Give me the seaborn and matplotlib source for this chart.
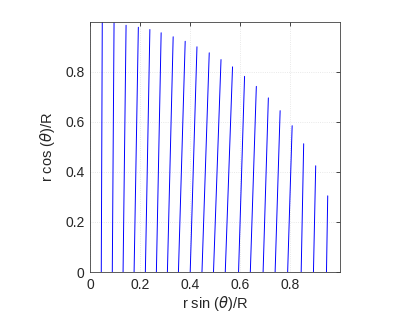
import numpy as np
import pandas as pd
import matplotlib
matplotlib.use("Agg")
import matplotlib.pyplot as plt
import seaborn as sns

# line ends: bottom at y=0, top on the edge
x_bottom = [0.045, 0.089, 0.132, 0.176, 0.221, 0.265, 0.309, 0.353, 0.400, 0.447,
            0.493, 0.540, 0.593, 0.640, 0.691, 0.739, 0.789, 0.843, 0.892, 0.944]
x_top = [0.049, 0.096, 0.144, 0.193, 0.239, 0.284, 0.332, 0.380, 0.427, 0.476,
         0.523, 0.569, 0.617, 0.664, 0.712, 0.759, 0.807, 0.853, 0.901, 0.949]
y_top = [0.999, 0.995, 0.985, 0.977, 0.968, 0.955, 0.939, 0.921, 0.899, 0.875,
         0.848, 0.819, 0.781, 0.741, 0.695, 0.644, 0.584, 0.512, 0.424, 0.304]

ticks = [0, 0.2, 0.4, 0.6, 0.8]
tick_labels = ["0", "0.2", "0.4", "0.6", "0.8"]

rows = []
for i in range(len(x_bottom)):
    rows.append([i, x_bottom[i], 0.0])
    rows.append([i, x_top[i], y_top[i]])
df = pd.DataFrame(rows, columns=["line", "x", "y"])

sns.set_style("white")
plt.rcParams["font.family"] = ["Liberation Sans", "DejaVu Sans"]
plt.rcParams["mathtext.fontset"] = "dejavusans"

fig = plt.figure(figsize=(4.15, 3.12), dpi=100)
ax = fig.add_axes([90 / 415, 40 / 312, 250 / 415, 250 / 312])

sns.lineplot(data=df, x="x", y="y", units="line", estimator=None, sort=False,
             color="#0000ff", linewidth=0.7, ax=ax, legend=False)

ax.set_xlim(0, 0.998)
ax.set_ylim(0, 0.998)
ax.set_xticks(ticks)
ax.set_xticklabels(tick_labels)
ax.set_yticks(ticks)
ax.set_yticklabels(tick_labels)
ax.grid(True, linestyle=":", color="#e2e2e2", linewidth=0.6)
ax.tick_params(direction="in", length=3, width=0.6, colors="#262626",
               labelsize=10, top=True, right=True, pad=4)
for s in ax.spines.values():
    s.set_color("#404040")
    s.set_linewidth(0.6)

ax.set_xlabel(r"r sin ($\theta$)/R", fontsize=10.5, color="#262626", labelpad=2)
ax.set_ylabel(r"r cos ($\theta$)/R", fontsize=10.5, color="#262626", labelpad=6)

fig.savefig("out.png", dpi=100)
